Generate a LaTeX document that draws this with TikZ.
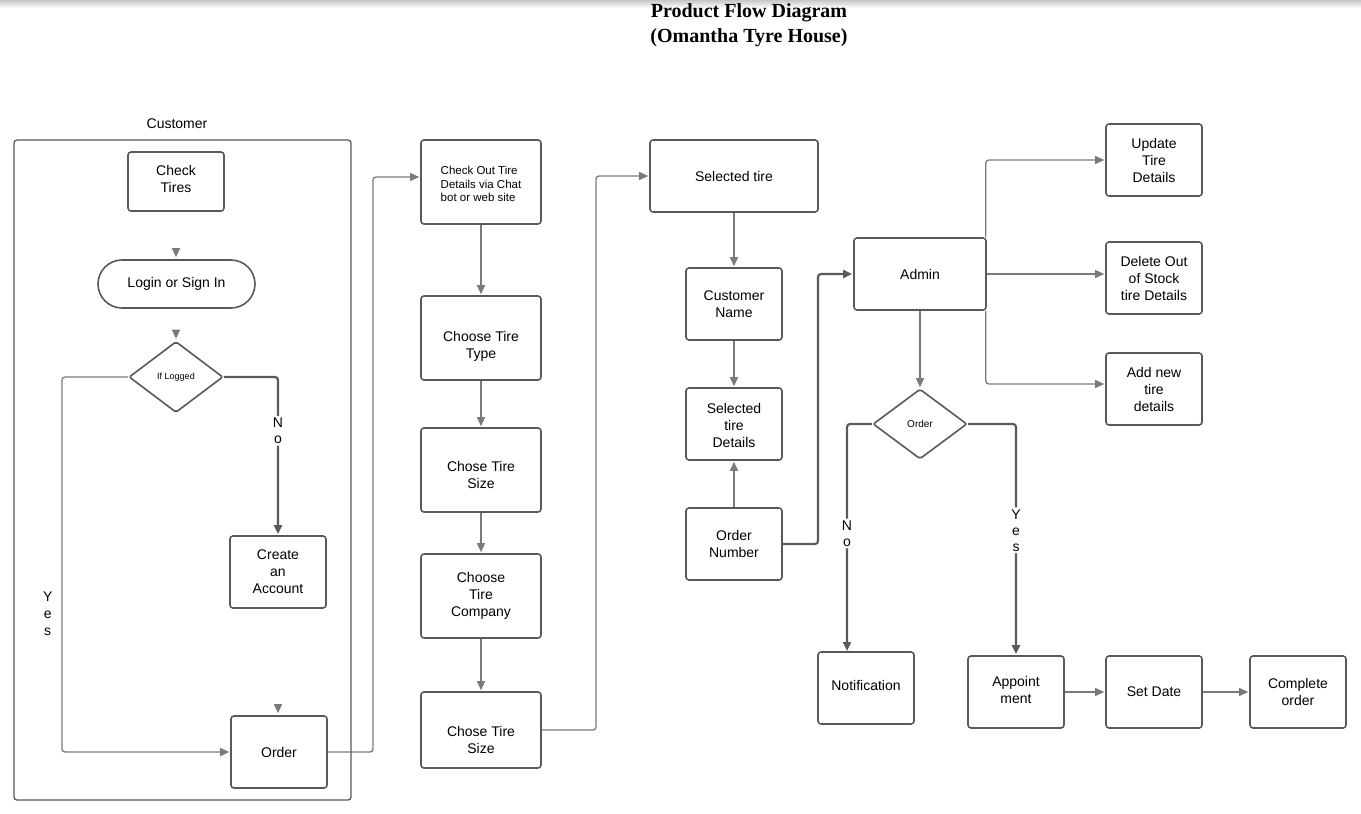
\documentclass[tikz,border=0pt]{standalone}
\usepackage{fontspec}
\setmainfont{Liberation Sans}
\newfontfamily\titlefont{Liberation Serif}
\usetikzlibrary{arrows.meta,shapes.geometric}
\definecolor{boxc}{HTML}{595959}
\definecolor{linec}{HTML}{7A7A7A}
\definecolor{darkline}{HTML}{5A5A5A}
% lowers the text block of a node by half of #1
\newcommand{\lowerby}[1]{\rule{0pt}{#1}}
% raises the text block of a node by half of #1
\newcommand{\raiseby}[1]{\rule[-#1]{0pt}{0pt}}
\begin{document}
\begin{tikzpicture}[x=1pt,y=-1pt,
  box/.style={draw=boxc, line width=1.6pt, rounded corners=3pt, align=center,
    font=\fontsize{14}{17}\selectfont, inner sep=0pt, text=black},
  w96/.style={minimum width=96pt, minimum height=72pt},
  w120/.style={minimum width=120pt, minimum height=84pt},
  decision/.style={draw=boxc, line width=1.6pt, diamond, inner sep=0pt,
    minimum width=94pt, minimum height=71pt, rounded corners=2pt},
  conn/.style={draw=linec, line width=1.3pt, rounded corners=3pt,
    -{Triangle[length=9pt,width=8pt]}, shorten >=1pt},
  bold conn/.style={conn, draw=darkline, line width=2.2pt},
  stub/.style={draw=linec, line width=1.3pt, -{Triangle[length=9pt,width=8pt]}, shorten >=2pt},
  vlabel/.style={fill=white, align=center, inner sep=2pt,
    font=\fontsize{14}{16}\selectfont},
  every node/.append style={text=black}]

\useasboundingbox (0,0) rectangle (1361,814);
\shade[top color=black!22, bottom color=white] (0,0) rectangle (1361,8);

% title
\node[font=\titlefont\bfseries\fontsize{20}{25}\selectfont, align=center] (title) at (749,25)
  {Product Flow Diagram\\(Omantha Tyre House)};

% customer lane
\node[font=\fontsize{14}{17}\selectfont] (custlbl) at (177,124) {Customer};
\draw[draw=boxc, line width=1.3pt, rounded corners=3pt] (14,140) rectangle (351,800);

\node[box, minimum width=96pt, minimum height=59pt, font=\fontsize{14}{16.5}\selectfont] (ct) at (176,181.5) {Check\\Tires\raiseby{5pt}};
\node[box, minimum width=157pt, minimum height=48pt, rounded corners=24pt] (login) at (176.5,284) {Login or Sign In};
\node[decision, font=\fontsize{9}{10}\selectfont] (iflog) at (176,377) {If Logged};
\node[box, w96] (acct) at (278,572) {Create\\an\\Account};
\node[box, w96] (order) at (279,752) {Order};

% tyre selection column
\node[box, w120, align=left, font=\fontsize{11.5}{13.5}\selectfont] (chk) at (481,182)
  {\lowerby{12.5pt}Check Out Tire\\Details via Chat\\bot or web site};
\node[box, w120] (type) at (481,338) {\lowerby{26pt}Choose Tire\\Type};
\node[box, w120] (size1) at (481,470) {\lowerby{20pt}Chose Tire\\Size};
\node[box, w120] (comp) at (481,596) {Choose\\Tire\\Company};
\node[box, minimum width=120pt, minimum height=76pt] (size2) at (481,730) {\lowerby{30pt}Chose Tire\\Size};

% order details column
\node[box, minimum width=168pt, minimum height=72pt] (seltire) at (734,176) {Selected tire};
\node[box, w96] (cname) at (734,304) {Customer\\Name};
\node[box, w96] (seldet) at (734,424) {\lowerby{14pt}Selected\\tire\\Details};
\node[box, w96] (onum) at (734,544) {Order\\Number};

% admin part
\node[box, minimum width=132pt, minimum height=72pt] (admin) at (920,274) {Admin};
\node[decision, minimum height=70pt, font=\fontsize{10}{11}\selectfont] (orderd) at (920,424) {Order};
\node[box, w96] (upd) at (1154,160) {Update\\Tire\\Details};
\node[box, w96] (del) at (1154,278) {Delete Out\\of Stock\\tire Details};
\node[box, w96] (add) at (1154,389) {Add new\\tire\\details};
\node[box, w96] (notif) at (866,688) {Notification\raiseby{6pt}};
\node[box, w96] (appt) at (1016,692) {Appoint\\ment\raiseby{4pt}};
\node[box, w96] (setd) at (1154,692) {Set Date};
\node[box, w96] (compl) at (1298,692) {Complete\\order};

% helper points
\coordinate (s1) at (176,248);
\coordinate (s2) at (176,330);
\coordinate (s3) at (278,704);
\coordinate (y1) at (62,377);
\coordinate (y2) at (62,752);
\coordinate (j1) at (373,450);
\coordinate (j2) at (596,450);
\coordinate (j3) at (818,400);
\coordinate (nx) at (847,652);

% customer flow
\draw[stub] (s1) -- (ct.south |- login.north);
\draw[stub] (s2) -- (iflog.north);
\draw[stub] (s3) -- (s3 |- order.north);
\draw[bold conn] (iflog.east) -| node[vlabel, pos=0.67] {N\\o} (acct.north);
\draw[conn] (iflog.west) -- (y1) -- node[pos=0.63, left=9pt, align=center, inner sep=0pt,
  font=\fontsize{14}{17}\selectfont] {Y\\e\\s} (y2) -- (order.west);
\draw[conn] (order.east) -| (j1) |- ([yshift=5pt]chk.west);

% tyre selection
\draw[conn] (chk) -- (type);
\draw[conn] (type) -- (size1);
\draw[conn] (size1) -- (comp);
\draw[conn] (comp) -- (size2);
\draw[conn] (size2.east) -| (j2) |- (seltire.west);

% order details
\draw[conn] (seltire) -- (cname);
\draw[conn] (cname) -- (seldet);
\draw[conn] (onum) -- (seldet);
\draw[bold conn] (onum.east) -| (j3) |- (admin.west);

% admin actions
\draw[conn] ([xshift=-1pt]admin.north east) |- (upd.west);
\draw[conn] (admin.east) -- (admin.east -| del.west);
\draw[conn] ([xshift=-1pt]admin.south east) |- ([yshift=5pt]add.west);
\draw[conn] (admin) -- (orderd);
\draw[bold conn] (orderd.west) -| node[vlabel, pos=0.74] {N\\o} (nx);
\draw[bold conn] (orderd.east) -| node[vlabel, pos=0.73] {Y\\e\\s} (appt.north);
\draw[conn] (appt) -- (setd);
\draw[conn] (setd) -- (compl);
\end{tikzpicture}
\end{document}
